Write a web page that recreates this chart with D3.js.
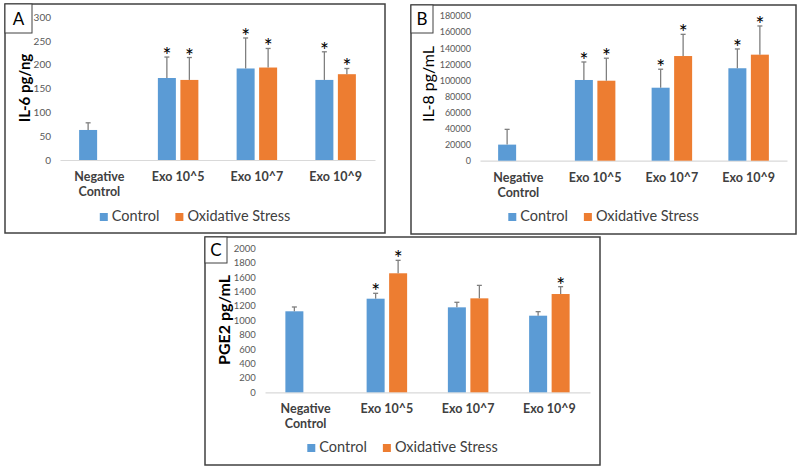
<!DOCTYPE html>
<html>
<head>
<meta charset="utf-8">
<script src="https://cdn.jsdelivr.net/npm/d3@7"></script>
<style>
  body { margin: 0; background: #ffffff; }
  svg { display: block; }
  text { font-family: Lato, "Open Sans", sans-serif; }
</style>
</head>
<body>
<svg id="chart" width="800" height="470"></svg>
<script>
// ---------- data ----------
const categories = ["Negative Control", "Exo 10^5", "Exo 10^7", "Exo 10^9"];
const seriesNames = ["Control", "Oxidative Stress"];

// Panel A : IL-6
const il6Control     = [63, 172, 192, 168];
const il6ControlErr  = [15, 44, 64, 59];
const il6ControlSig  = [false, true, true, true];
const il6Stress      = [null, 168, 194, 180];
const il6StressErr   = [null, 47, 40, 12];
const il6StressSig   = [false, true, true, true];
const il6Ticks       = [0, 50, 100, 150, 200, 250, 300];

// Panel B : IL-8
const il8Control     = [20000, 100400, 90800, 115000];
const il8ControlErr  = [19000, 22400, 23000, 24000];
const il8ControlSig  = [false, true, true, true];
const il8Stress      = [null, 99500, 130200, 131900];
const il8StressErr   = [null, 28000, 27000, 35700];
const il8StressSig   = [false, true, true, true];
const il8Ticks       = [0, 20000, 40000, 60000, 80000, 100000, 120000, 140000, 160000, 180000];

// Panel C : PGE2
const pgeControl     = [1125, 1300, 1180, 1064];
const pgeControlErr  = [60, 75, 70, 56];
const pgeControlSig  = [false, true, false, false];
const pgeStress      = [null, 1653, 1305, 1365];
const pgeStressErr   = [null, 180, 180, 102];
const pgeStressSig   = [false, true, false, true];
const pgeTicks       = [0, 200, 400, 600, 800, 1000, 1200, 1400, 1600, 1800, 2000];

// ---------- styling ----------
const BLUE = "#5b9bd5", ORANGE = "#ed7d31";
const svg = d3.select("#chart");

function drawPanel(p) {
  const g = svg.append("g");
  // frame
  g.append("rect").attr("x", p.box[0]).attr("y", p.box[1])
    .attr("width", p.box[2] - p.box[0]).attr("height", p.box[3] - p.box[1])
    .attr("fill", "#fff").attr("stroke", "#404040").attr("stroke-width", 1.5);
  // letter box
  g.append("rect").attr("x", p.box[0]).attr("y", p.box[1])
    .attr("width", p.letterBox[0]).attr("height", p.letterBox[1])
    .attr("fill", "#fff").attr("stroke", "#404040").attr("stroke-width", 1);
  g.append("text").attr("x", p.box[0] + p.letterBox[0] / 2).attr("y", p.box[1] + p.letterBox[1] / 2 + 6)
    .attr("text-anchor", "middle").attr("font-size", 17).attr("fill", "#000").text(p.letter);

  const x0 = d3.scaleBand().domain(categories).range([p.plotX[0], p.plotX[1]]);
  const x1 = d3.scaleBand().domain(seriesNames).range([-20.25, 20.25]).paddingInner(0.2);
  const y = d3.scaleLinear().domain([p.ticks[0], p.ticks[p.ticks.length - 1]]).range([p.plotY[0], p.plotY[1]]);

  // y axis ticks (labels only)
  const yAxis = d3.axisLeft(y).tickValues(p.ticks).tickSize(0).tickPadding(0).tickFormat(d3.format("d"));
  const ya = g.append("g").attr("transform", `translate(${p.tickRight},0)`).call(yAxis);
  ya.select(".domain").remove();
  ya.selectAll("text").attr("font-size", p.tickFont).attr("fill", "#595959")
    .attr("font-family", "Lato, sans-serif");

  // baseline
  const xa = g.append("g").attr("transform", `translate(0,${y(0)})`)
    .call(d3.axisBottom(x0).tickSize(0).tickFormat(""));
  xa.select(".domain").attr("stroke", "#d9d9d9").attr("stroke-width", 1.2);

  // category labels
  categories.forEach(c => {
    const lines = c === "Negative Control" ? ["Negative", "Control"] : [c];
    lines.forEach((ln, i) => {
      g.append("text").attr("x", x0(c) + x0.bandwidth() / 2).attr("y", y(0) + 21 + i * 15)
        .attr("text-anchor", "middle").attr("font-size", 12.5).attr("font-weight", "bold")
        .attr("fill", "#404040").text(ln);
    });
  });

  // bars
  const series = [
    { name: "Control", vals: p.control, errs: p.controlErr, sig: p.controlSig, color: BLUE },
    { name: "Oxidative Stress", vals: p.stress, errs: p.stressErr, sig: p.stressSig, color: ORANGE }
  ];
  series.forEach(s => {
    categories.forEach((c, i) => {
      const v = s.vals[i];
      if (v == null) return;
      const bx = x0(c) + x0.bandwidth() / 2 + x1(s.name);
      const cx = bx + x1.bandwidth() / 2;
      g.append("rect").attr("x", bx).attr("y", y(v)).attr("width", x1.bandwidth())
        .attr("height", y(0) - y(v)).attr("fill", s.color);
      const top = y(v + s.errs[i]);
      g.append("line").attr("x1", cx).attr("x2", cx).attr("y1", y(v)).attr("y2", top)
        .attr("stroke", "#7f7f7f").attr("stroke-width", 1.3);
      g.append("line").attr("x1", cx - 2.5).attr("x2", cx + 2.5).attr("y1", top).attr("y2", top)
        .attr("stroke", "#7f7f7f").attr("stroke-width", 1.3);
      if (s.sig[i]) {
        g.append("text").attr("x", cx).attr("y", top + 6).attr("text-anchor", "middle")
          .attr("font-size", 21).attr("fill", "#000").attr("font-family", "DejaVu Sans, sans-serif")
          .text("*");
      }
    });
  });

  // y label
  g.append("text").attr("transform", `translate(${p.yLabelX},${p.yLabelY}) rotate(-90)`)
    .attr("text-anchor", "middle").attr("font-size", p.yLabelSize)
    .attr("font-weight", p.yLabelBold ? "bold" : "normal").attr("fill", "#000").text(p.yLabel);

  // legend
  const lg = g.append("g");
  let cursor = 0;
  series.forEach((s, i) => {
    const it = lg.append("g").attr("transform", `translate(${cursor},0)`);
    it.append("rect").attr("x", 0).attr("y", -8).attr("width", 8).attr("height", 8).attr("fill", s.color);
    const t = it.append("text").attr("x", 12).attr("y", 0).attr("font-size", 14.5)
      .attr("fill", "#404040").text(s.name);
    const w = t.node().getComputedTextLength();
    cursor += 12 + w + (i === 0 ? 16 : 0);
  });
  const cx = (p.box[0] + p.box[2]) / 2;
  lg.attr("transform", `translate(${cx - cursor / 2},${p.legendY})`);
}

drawPanel({
  letter: "A", box: [5, 4, 385, 233], letterBox: [27, 29],
  plotX: [60, 375], plotY: [160, 17], ticks: il6Ticks, tickRight: 51, tickFont: 10,
  control: il6Control, controlErr: il6ControlErr, controlSig: il6ControlSig,
  stress: il6Stress, stressErr: il6StressErr, stressSig: il6StressSig,
  yLabel: "IL-6 pg/ng", yLabelX: 30, yLabelY: 88, yLabelSize: 15, yLabelBold: true,
  legendY: 221
});
drawPanel({
  letter: "B", box: [411, 5, 796, 234], letterBox: [22, 28],
  plotX: [480, 787], plotY: [160.7, 16], ticks: il8Ticks, tickRight: 471, tickFont: 9,
  control: il8Control, controlErr: il8ControlErr, controlSig: il8ControlSig,
  stress: il8Stress, stressErr: il8StressErr, stressSig: il8StressSig,
  yLabel: "IL-8 pg/mL", yLabelX: 434, yLabelY: 84, yLabelSize: 16, yLabelBold: false,
  legendY: 221
});
drawPanel({
  letter: "C", box: [205, 237, 600, 465], letterBox: [22, 26],
  plotX: [265, 590], plotY: [392.3, 248.3], ticks: pgeTicks, tickRight: 255.7, tickFont: 9.5,
  control: pgeControl, controlErr: pgeControlErr, controlSig: pgeControlSig,
  stress: pgeStress, stressErr: pgeStressErr, stressSig: pgeStressSig,
  yLabel: "PGE2 pg/mL", yLabelX: 230, yLabelY: 320, yLabelSize: 16, yLabelBold: true,
  legendY: 452
});
</script>
</body>
</html>
